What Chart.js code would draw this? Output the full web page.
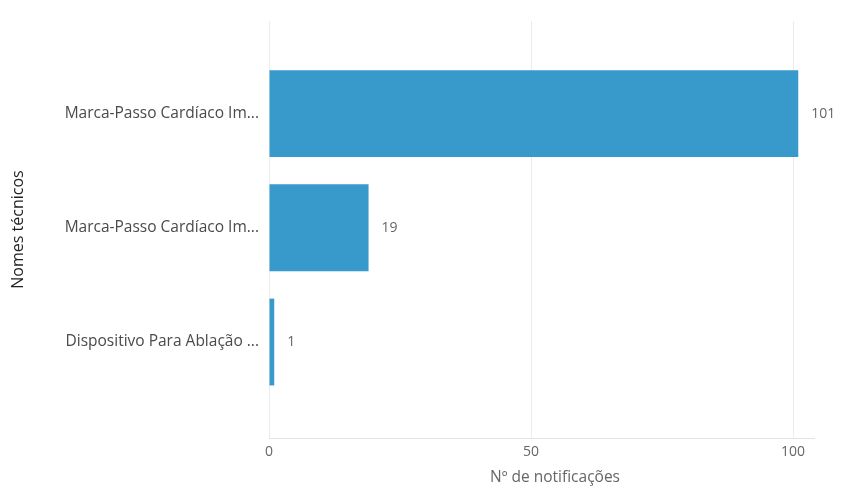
<!DOCTYPE html>
<html lang="pt">
<head>
  <meta charset="UTF-8">
  <title>Notificações por nome técnico</title>
  <script src="https://cdn.jsdelivr.net/npm/chart.js"></script>
  <style>
    html, body { margin: 0; padding: 0; background: #fff; }
    #wrap { width: 841px; height: 488px; }
  </style>
</head>
<body>
<div id="wrap"><canvas id="chart" width="841" height="488"></canvas></div>
<script>
const nomes = ["Marca-Passo Cardíaco Im...", "Marca-Passo Cardíaco Im...", "Dispositivo Para Ablação ..."];
const notificacoes = [101, 19, 1];
const xTicks = [0, 50, 100];
const tituloX = "Nº de notificações";

// rótulos de valor no fim de cada barra + título do eixo x
const valorPlugin = {
  id: "valor",
  afterDatasetsDraw(chart) {
    const ctx = chart.ctx;
    ctx.save();
    ctx.font = "14px 'Open Sans', sans-serif";
    ctx.fillStyle = "#666";
    ctx.textAlign = "left";
    ctx.textBaseline = "middle";
    chart.getDatasetMeta(0).data.forEach((bar, i) => {
      ctx.fillText(notificacoes[i], bar.x + 13, bar.y);
    });
    // título do eixo x, centrado entre o início da área e a borda direita
    ctx.font = "15.5px 'Open Sans', sans-serif";
    ctx.textAlign = "center";
    ctx.fillText(tituloX, (chart.chartArea.left + chart.width) / 2, chart.height - 10);
    ctx.restore();
  }
};

new Chart(document.getElementById("chart"), {
  type: "bar",
  data: {
    datasets: [{
      data: notificacoes.map((v, i) => ({ x: v, y: i })),
      backgroundColor: "#3899cb",
      borderWidth: 0,
      categoryPercentage: 0.8,
      barPercentage: 0.95
    }]
  },
  options: {
    indexAxis: "y",
    responsive: false,
    animation: false,
    layout: { padding: { top: 21, right: 27, bottom: 1, left: 9 } },
    plugins: { legend: { display: false }, tooltip: { enabled: false } },
    scales: {
      x: {
        type: "linear",
        min: 0,
        max: 104,
        afterBuildTicks: s => { s.ticks = xTicks.map(v => ({ value: v })); },
        afterFit: s => { s.height = 49; },
        grid: { color: "#ececec", drawTicks: false },
        border: { color: "#e4e4e4" },
        ticks: { color: "#666", padding: 6, font: { family: "'Open Sans', sans-serif", size: 14 } }
      },
      y: {
        type: "linear",
        reverse: true,
        offset: false,
        min: -0.81,
        max: 2.84,
        afterBuildTicks: s => { s.ticks = nomes.map((n, i) => ({ value: i })); },
        afterFit: s => { s.width = 260; },
        grid: { display: false },
        border: { display: false },
        ticks: { color: "#4a4a4a", padding: 2, callback: v => nomes[v], font: { family: "'Open Sans', sans-serif", size: 15.5 } },
        title: { display: true, text: "Nomes técnicos", color: "#222", padding: 0,
                 font: { family: "'Open Sans', sans-serif", size: 16 } }
      }
    }
  },
  plugins: [valorPlugin]
});
</script>
</body>
</html>
